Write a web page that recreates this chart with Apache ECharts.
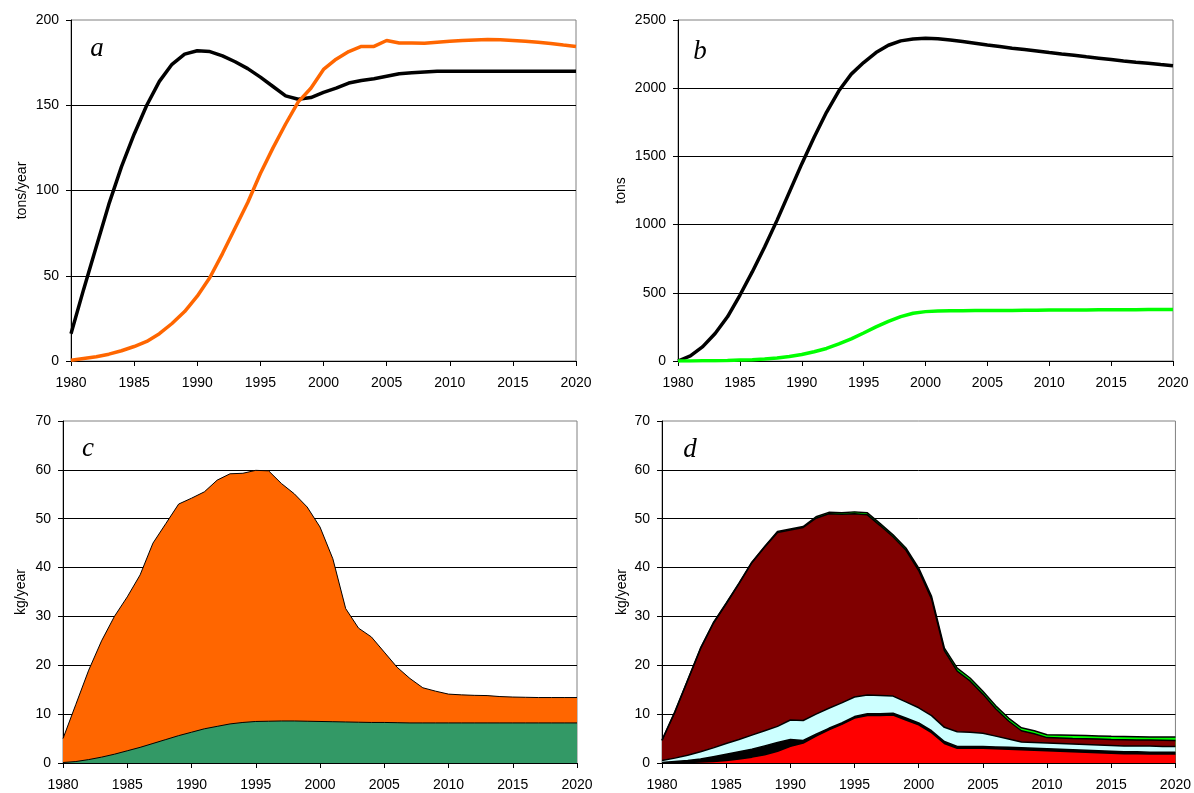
<!DOCTYPE html>
<html>
<head>
<meta charset="utf-8">
<script src="https://cdn.jsdelivr.net/npm/echarts@6/dist/echarts.min.js"></script>
<style>
html,body{margin:0;padding:0;background:#fff;}
#chart{width:1194px;height:793px;}
</style>
</head>
<body>
<div id="chart"></div>
<script>
var years = [1980,1981,1982,1983,1984,1985,1986,1987,1988,1989,1990,1991,1992,1993,1994,1995,1996,1997,1998,1999,2000,2001,2002,2003,2004,2005,2006,2007,2008,2009,2010,2011,2012,2013,2014,2015,2016,2017,2018,2019,2020];

// Panel a (tons/year)
var aBlack = [16,42,67,92,114,133,150,164,174,180, 182,181.5,179,175.5,171.5,166.5,161,155.5,153.5,154.5, 157.5,160,163,164.5,165.5,167,168.5,169,169.5,170, 170,170,170,170,170,170,170,170,170,170,170];
var aOrange = [0.5,1.5,2.5,4,6,8.5,11.5,16,22,29, 38,49,63,78,93,110,125,139,152,160, 171,177,181.5,184.5,184.5,188,186.5,186.5,186.3,187, 187.5,188,188.3,188.5,188.4,188,187.6,187,186.2,185.3,184.5];

// Panel b (tons)
var bBlack = [0,37,105,202,324,482,653,836,1031,1238, 1445,1640,1823,1981,2103,2188,2261,2315,2347,2361, 2366,2363,2354,2342,2330,2317,2305,2293,2283,2273, 2261,2251,2242,2230,2220,2210,2200,2191,2183,2173,2164];
var bGreen = [0,0,1,2,4,7,10,15,22,33, 48,68,92,125,162,205,250,290,325,350, 362,367,368,369,370,370,371,371,372,372, 373,373,374,374,375,375,376,376,377,377,378];

// Panel c (kg/year): top outline of orange area and green area
var cTotal = [5,12,19,25,30,34,38.5,45,49,53, 54.2,55.5,57.9,59.2,59.3,59.9,59.8,57.2,55.1,52.4, 48.3,41.8,31.6,27.6,25.8,22.7,19.6,17.3,15.4,14.7, 14.1,13.95,13.85,13.8,13.6,13.5,13.45,13.4,13.4,13.4,13.4];
var cGreen = [0.1,0.3,0.7,1.2,1.8,2.5,3.2,4.0,4.8,5.6, 6.3,7.0,7.5,8.0,8.3,8.5,8.55,8.6,8.6,8.55, 8.5,8.45,8.4,8.35,8.3,8.3,8.25,8.2,8.2,8.2, 8.2,8.2,8.2,8.2,8.2,8.2,8.2,8.2,8.2,8.2,8.2];

// Panel d (kg/year): upper boundaries of each layer
var dGreenTop = [4.7,10.5,17,23.5,28.7,32.7,36.8,41.1,44.3,47.4, 47.9,48.4,50.4,51.3,51.2,51.4,51.2,49.0,46.7,44.0, 39.9,34.1,23.5,19.4,17.4,14.7,11.7,9.2,7.2,6.6, 5.8,5.75,5.7,5.65,5.55,5.45,5.4,5.35,5.3,5.3,5.3];
var dMaroonTop = [4.6,10.4,16.9,23.4,28.6,32.6,36.7,41.0,44.2,47.2, 47.7,48.2,50.1,51.0,50.9,51.0,50.8,48.6,46.3,43.6, 39.4,33.6,23.0,18.8,16.8,14.1,11.1,8.6,6.6,6.0, 5.2,5.1,5.0,4.95,4.9,4.8,4.75,4.7,4.7,4.65,4.6];
var dCyanTop = [0.5,1.0,1.6,2.3,3.1,4.0,4.8,5.7,6.6,7.5, 8.8,8.7,10.0,11.2,12.3,13.5,13.9,13.8,13.7,12.5, 11.3,9.7,7.3,6.4,6.3,6.1,5.5,4.9,4.3,4.2, 4.1,4.0,3.9,3.8,3.7,3.6,3.5,3.5,3.5,3.4,3.4];
var dBlackTop = [0.1,0.3,0.5,0.8,1.3,1.8,2.3,2.8,3.5,4.2, 4.8,4.6,5.9,7.1,8.2,9.5,10.1,10.1,10.2,9.2, 8.2,6.6,4.4,3.4,3.4,3.4,3.3,3.2,3.1,3.0, 2.9,2.8,2.7,2.6,2.5,2.4,2.3,2.3,2.2,2.2,2.2];
var dRedTop = [0,0.05,0.1,0.2,0.3,0.5,0.8,1.2,1.7,2.4, 3.4,4.1,5.5,6.8,7.9,9.2,9.7,9.7,9.8,8.8, 7.8,6.2,4.0,3.0,3.0,3.0,2.9,2.8,2.7,2.6, 2.5,2.4,2.3,2.2,2.1,2.0,1.9,1.9,1.85,1.85,1.85];

var yNames = ['tons/year','tons','kg/year','kg/year'];
var panelLetters = ['a','b','c','d'];

function pairs(arr){ return years.map(function(y,i){ return [y, arr[i]]; }); }

var FONT = 'Liberation Sans';
function xAx(g){
  return {type:'value', gridIndex:g, min:1980, max:2020, interval:5,
    axisLine:{show:true, lineStyle:{color:'#000', width:1}},
    axisTick:{show:true, length:5, lineStyle:{color:'#000'}},
    axisLabel:{color:'#000', fontSize:14, fontFamily:FONT, margin:15, formatter:function(v){return String(v);}},
    splitLine:{show:false}};
}
function yAx(g, max, interval, gap){
  return {type:'value', gridIndex:g, min:0, max:max, interval:interval,
    name:yNames[g], nameLocation:'middle', nameGap:gap,
    nameTextStyle:{color:'#000', fontSize:14, fontFamily:FONT},
    axisLine:{show:true, lineStyle:{color:'#000', width:1}},
    axisTick:{show:true, length:5, lineStyle:{color:'#000'}},
    axisLabel:{color:'#000', fontSize:14, fontFamily:FONT, margin:12, formatter:function(v){return String(v);}},
    splitLine:{show:true, showMaxLine:false, lineStyle:{color:'#000', width:1}}};
}
function gridBox(l,t,w,h){ return {left:l, top:t, width:w, height:h, show:true, borderColor:'#808080', borderWidth:1, backgroundColor:'rgba(0,0,0,0)'}; }

function lineS(g, arr, color, w){
  return {type:'line', xAxisIndex:g, yAxisIndex:g, data:pairs(arr), showSymbol:false, symbol:'none',
    lineStyle:{color:color, width:w}, itemStyle:{color:color}};
}
function areaS(g, arr, color, lw){
  return {type:'line', xAxisIndex:g, yAxisIndex:g, data:pairs(arr), showSymbol:false, symbol:'none',
    lineStyle:{color:'#000', width:lw}, areaStyle:{color:color, opacity:1, origin:'start'}, itemStyle:{color:color}};
}

var letterPos = [[97,49],[700,52],[88,449],[690,450]];

var option = {
  animation:false,
  backgroundColor:'#fff',
  grid:[gridBox(71,20,505,341), gridBox(678,20,495,341), gridBox(63,421,514,342), gridBox(662,421,514,342)],
  xAxis:[xAx(0),xAx(1),xAx(2),xAx(3)],
  yAxis:[yAx(0,200,50,42), yAx(1,2500,500,50), yAx(2,70,10,35), yAx(3,70,10,33)],
  series:[
    lineS(0, aBlack, '#000000', 3.5),
    lineS(0, aOrange, '#FF6600', 3.5),
    lineS(1, bBlack, '#000000', 3.5),
    lineS(1, bGreen, '#00FF00', 3.5),
    areaS(2, cTotal, '#FF6600', 1),
    areaS(2, cGreen, '#339966', 1),
    areaS(3, dGreenTop, '#00FF00', 1.5),
    areaS(3, dMaroonTop, '#800000', 1.5),
    areaS(3, dCyanTop, '#CCFFFF', 1.5),
    areaS(3, dBlackTop, '#000000', 1.5),
    areaS(3, dRedTop, '#FF0000', 1.5)
  ],
  graphic: panelLetters.map(function(t,i){
    return {type:'text', x:letterPos[i][0], y:letterPos[i][1], z:100,
      style:{text:t, font:'italic 27px "Liberation Serif"', fill:'#000', textAlign:'center', textVerticalAlign:'middle'}};
  })
};

var chart = echarts.init(document.getElementById('chart'), null, {renderer:'canvas'});
chart.setOption(option);
</script>
</body>
</html>
